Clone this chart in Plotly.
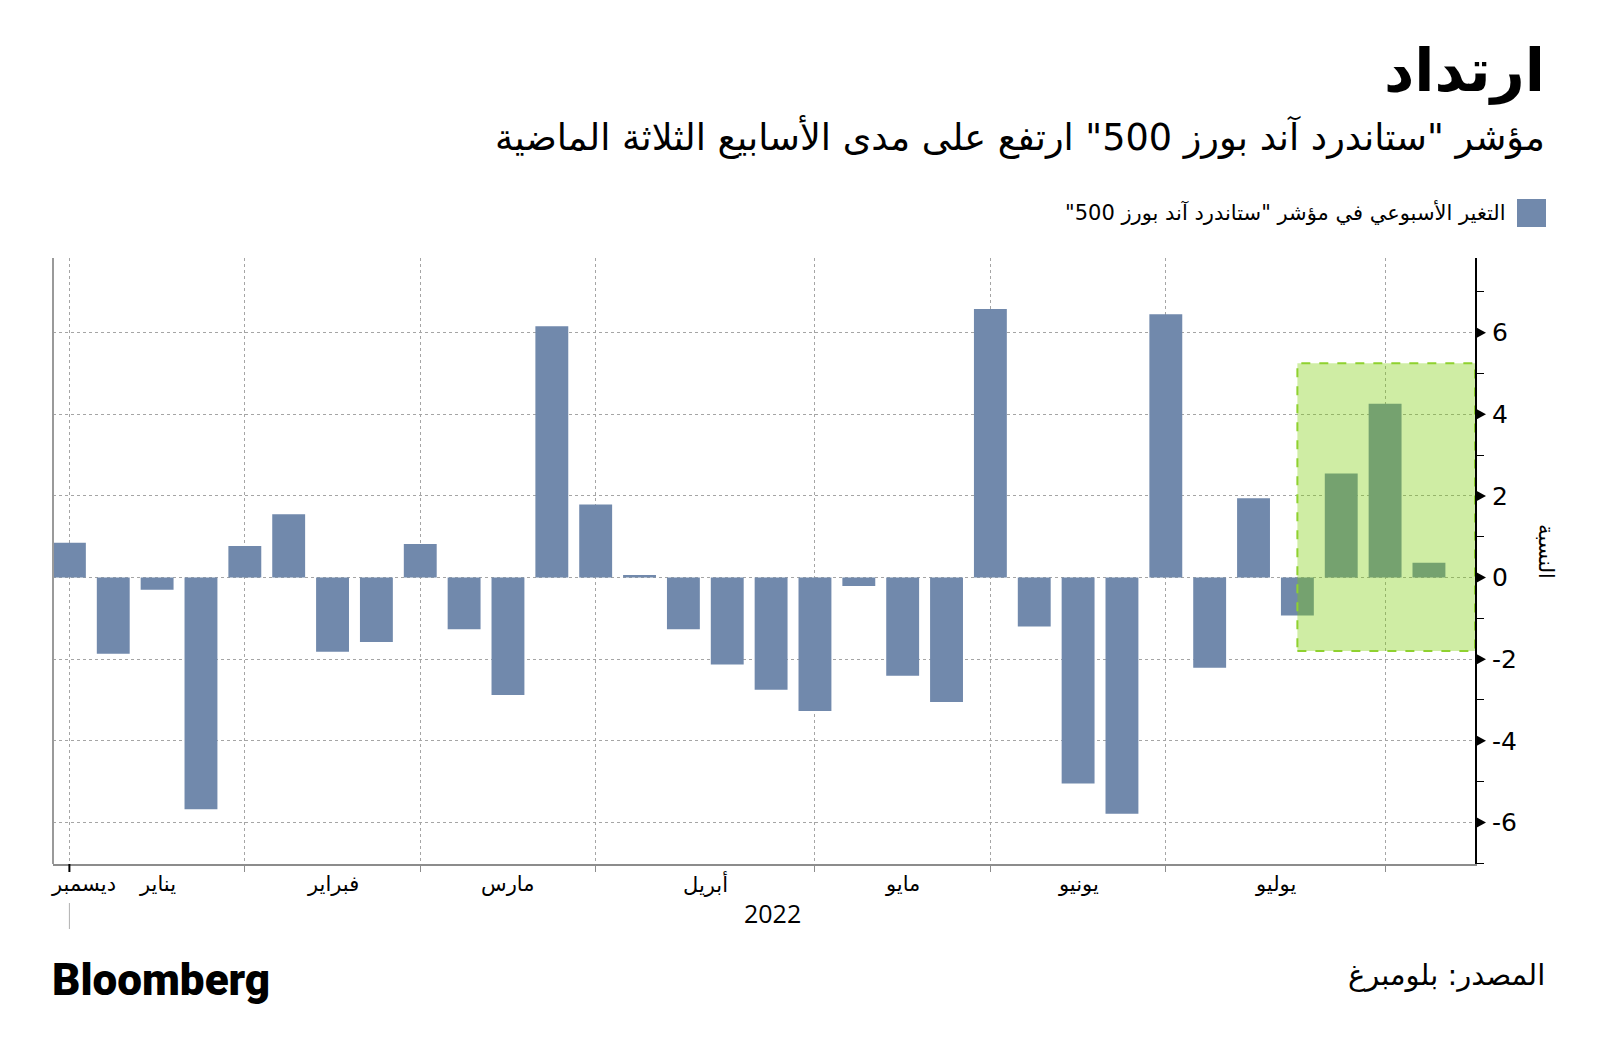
import plotly.graph_objects as go

# ---------------- data ----------------
weeks = ["2021-12-31", "2022-01-07", "2022-01-14", "2022-01-21", "2022-01-28",
         "2022-02-04", "2022-02-11", "2022-02-18", "2022-02-25",
         "2022-03-04", "2022-03-11", "2022-03-18", "2022-03-25",
         "2022-04-01", "2022-04-08", "2022-04-14", "2022-04-22", "2022-04-29",
         "2022-05-06", "2022-05-13", "2022-05-20", "2022-05-27",
         "2022-06-03", "2022-06-10", "2022-06-17", "2022-06-24",
         "2022-07-01", "2022-07-08", "2022-07-15", "2022-07-22", "2022-07-29",
         "2022-08-05"]
changes = [0.85, -1.87, -0.30, -5.68, 0.77,
           1.55, -1.82, -1.58, 0.82,
           -1.27, -2.88, 6.16, 1.79,
           0.06, -1.27, -2.13, -2.75, -3.27,
           -0.21, -2.41, -3.05, 6.58,
           -1.20, -5.05, -5.79, 6.45,
           -2.21, 1.94, -0.93, 2.55, 4.26,
           0.36]
month_names = {12: "ديسمبر", 1: "يناير", 2: "فبراير", 3: "مارس", 4: "أبريل",
               5: "مايو", 6: "يونيو", 7: "يوليو", 8: "أغسطس"}
year_label = "2022"
y_tick_vals = [-6, -4, -2, 0, 2, 4, 6]
y_tick_text = ["-6", "-4", "-2", "0", "2", "4", "6"]
highlight_from = "2022-07-15"
highlight_low, highlight_high = -1.8, 5.25

RLM = "\u200f"
title = "ارتداد"
subtitle = RLM + 'مؤشر "ستاندرد آند بورز 500" ارتفع على مدى الأسابيع الثلاثة الماضية' + RLM
legend_text = RLM + 'التغير الأسبوعي في مؤشر "ستاندرد آند بورز 500"' + RLM
y_title = "النسبة"
source = "المصدر: بلومبرغ"
logo = "Bloomberg"

# ---------------- layout geometry ----------------
W, H = 1600, 1060
OFF = 8  # page body margin of the browser
L, R, T, B = 45, 133, 250, 204
PW, PH = W - L - R, H - T - B


def px(x):  # screen x -> paper
    return (x - OFF - L) / PW


def py(y):  # screen y -> paper
    return (H - B - (y - OFF)) / PH


BLUE = "#7189ac"
ARABIC = "DejaVu Sans"

n = len(weeks)
xs = list(range(n))
months = [int(w[5:7]) for w in weeks]
x_max = n - 1 + 1.05
y_lo, y_hi = -7.02, 7.83

# last bar index of every month (except the last, still-running month)
month_end = {}
order = []
for i, m in enumerate(months):
    if m not in order:
        order.append(m)
    month_end[m] = i
tick_months = order[:-1]
tick_idx = [month_end[m] for m in tick_months]

fig = go.Figure()
fig.add_trace(go.Bar(x=xs, y=changes, marker=dict(color=BLUE, line=dict(width=0)),
                     width=0.75, showlegend=False, hoverinfo="y"))

fig.update_layout(
    width=W, height=H,
    margin=dict(l=L, r=R, t=T, b=B),
    paper_bgcolor="white", plot_bgcolor="white",
    xaxis=dict(range=[-0.374, x_max], tickvals=tick_idx,
               ticktext=[""] * len(tick_idx), showgrid=True, gridcolor="#a5a5a5",
               griddash="dot", gridwidth=1, showline=True, linecolor="#8c8c8c",
               linewidth=1.5, ticks="outside", ticklen=6, tickcolor="#8c8c8c",
               zeroline=False, fixedrange=True),
    yaxis=dict(side="right", range=[y_lo, y_hi], tickvals=y_tick_vals,
               ticktext=y_tick_text, showgrid=True, gridcolor="#a5a5a5",
               griddash="dot", gridwidth=1, zeroline=False, showline=True,
               linecolor="black", linewidth=2, ticks="", ticklabelstandoff=10,
               tickfont=dict(family="DejaVu Sans", size=25, color="black"),
               minor=dict(tick0=1, dtick=2, ticks="outside", ticklen=7,
                          tickcolor="black", showgrid=False),
               fixedrange=True),
    bargap=0.25,
    font=dict(family=ARABIC, color="black"),
)

shapes = []
# left axis line
shapes.append(dict(type="line", xref="paper", yref="paper", x0=0, x1=0, y0=0, y1=1,
                   line=dict(color="#9a9a9a", width=2)))
# year separator tick
shapes.append(dict(type="line", xref="x", yref="paper", x0=tick_idx[0], x1=tick_idx[0],
                   y0=0, y1=-8 / PH, line=dict(color="black", width=2)))
shapes.append(dict(type="line", xref="x", yref="paper", x0=tick_idx[0], x1=tick_idx[0],
                   y0=py(903), y1=py(929), line=dict(color="#b0b0b0", width=1)))
# triangle markers on the right axis at the major ticks
tw = 11 / PW
th = 6 * (y_hi - y_lo) / PH
for v in y_tick_vals:
    shapes.append(dict(type="path", xref="paper", yref="y",
                       path=f"M 1,{v - th} L {1 + tw},{v} L 1,{v + th} Z",
                       fillcolor="black", line=dict(width=0)))
# highlight box
shapes.append(dict(type="rect", xref="x", yref="y", x0=weeks.index(highlight_from),
                   x1=x_max, y0=highlight_low, y1=highlight_high,
                   fillcolor="rgba(125,205,8,0.37)",
                   line=dict(color="#8fd12f", width=2, dash="dash"), layer="above"))
# legend swatch
shapes.append(dict(type="rect", xref="paper", yref="paper", x0=px(1517), x1=px(1546),
                   y0=py(227), y1=py(199), fillcolor=BLUE, line=dict(width=0)))
fig.update_layout(shapes=shapes)

ann = []
ann.append(dict(text=f"<b>{title}</b>", xref="paper", yref="paper", x=px(1547),
                y=py(70), xanchor="right", yanchor="middle", showarrow=False,
                font=dict(family=ARABIC, size=59, color="black")))
ann.append(dict(text=subtitle, xref="paper", yref="paper", x=px(1547), y=py(137),
                xanchor="right", yanchor="middle", showarrow=False,
                font=dict(family=ARABIC, size=36.6, color="black")))
ann.append(dict(text=legend_text, xref="paper", yref="paper", x=px(1508), y=py(213),
                xanchor="right", yanchor="middle", showarrow=False,
                font=dict(family=ARABIC, size=21, color="black")))
ann.append(dict(text=y_title, xref="paper", yref="paper", x=px(1546), y=py(551),
                xanchor="center", yanchor="middle", textangle=90, showarrow=False,
                font=dict(family=ARABIC, size=21, color="black")))
ann.append(dict(text=source, xref="paper", yref="paper", x=px(1547), y=py(975),
                xanchor="right", yanchor="middle", showarrow=False,
                font=dict(family=ARABIC, size=29, color="black")))
ann.append(dict(text=logo, xref="paper", yref="paper", x=px(50), y=py(980),
                xanchor="left", yanchor="middle", showarrow=False,
                font=dict(family="Roboto", size=44, color="black", weight=900)))

# month labels centred in each month span
prev = None
for m, e in zip(tick_months, tick_idx):
    if prev is None:
        ann.append(dict(text=month_names[m], xref="x", yref="paper", x=e, y=py(884),
                        xshift=14, xanchor="center", yanchor="middle", showarrow=False,
                        font=dict(family=ARABIC, size=21, color="black")))
    else:
        ann.append(dict(text=month_names[m], xref="x", yref="paper", x=(prev + e) / 2,
                        y=py(884), xanchor="center", yanchor="middle", showarrow=False,
                        font=dict(family=ARABIC, size=21, color="black")))
    prev = e
ann.append(dict(text=year_label, xref="x", yref="paper", x=(tick_idx[0] + x_max) / 2,
                y=py(913), xanchor="center", yanchor="middle", showarrow=False,
                font=dict(family="Open Sans", size=25, color="black")))
fig.update_layout(annotations=ann)

fig.write_html("out.html")
